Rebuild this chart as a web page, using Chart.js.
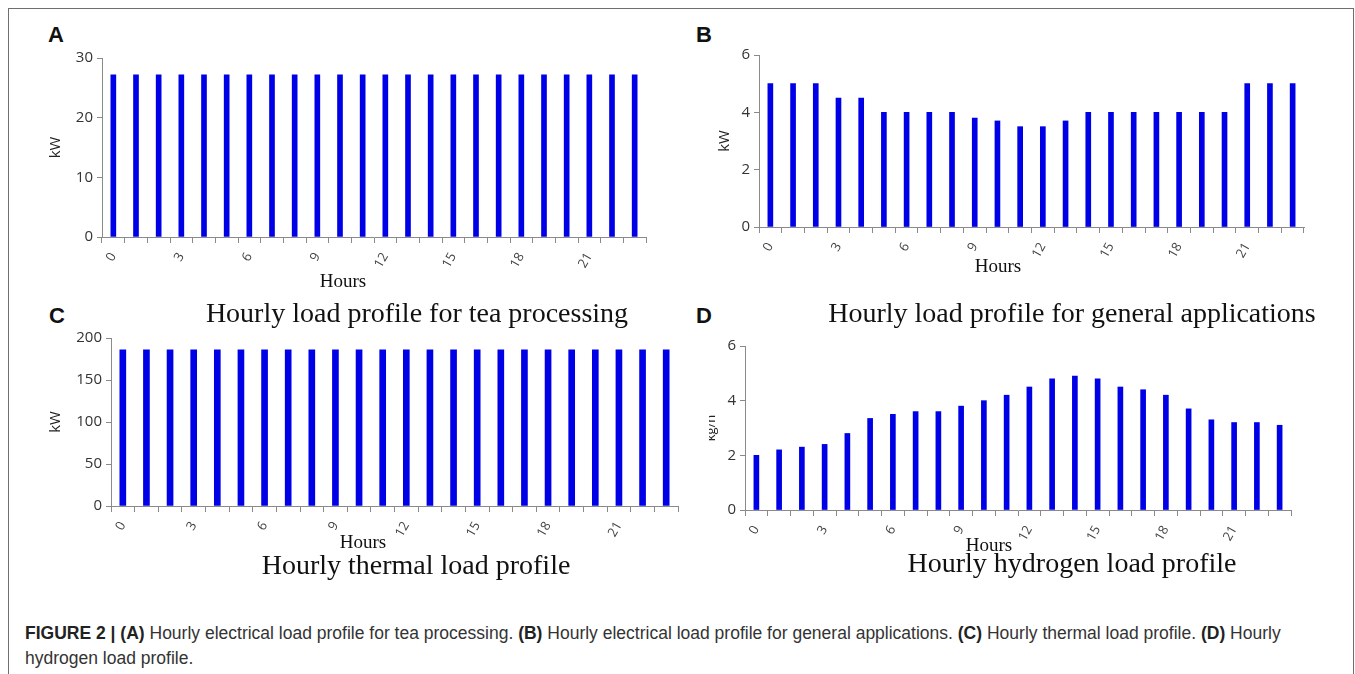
<!DOCTYPE html>
<html>
<head>
<meta charset="utf-8">
<title>Hourly load profiles</title>
<script src="https://cdn.jsdelivr.net/npm/chart.js@4.4.1/dist/chart.umd.min.js"></script>
<style>
  html, body { margin: 0; padding: 0; background: #fff; }
  body { position: relative; width: 1355px; height: 674px; overflow: hidden; font-family: "Liberation Sans", Arial, sans-serif; }
  .frame { position: absolute; left: 8px; top: 8px; width: 1344px; height: 700px; border: 1px solid #6f6f6f; border-bottom: none; }
  canvas { position: absolute; }
  .letter { position: absolute; font: bold 22px "Liberation Sans", Arial, sans-serif; color: #111; line-height: 22px; }
  .title { position: absolute; font: 28px "Liberation Serif", "Times New Roman", serif; color: #111; white-space: nowrap; transform: translateX(-50%); line-height: 28px; }
  .hours { position: absolute; font: 19px "Liberation Serif", "Times New Roman", serif; color: #111; white-space: nowrap; transform: translateX(-50%); line-height: 19px; }
  .caption { position: absolute; left: 25px; top: 621px; width: 1320px; font: 17.5px "Liberation Sans", Arial, sans-serif; color: #333; line-height: 25px; white-space: nowrap; }
  .caption b { color: #222; }
</style>
</head>
<body>
<div class="frame"></div>

<div class="letter" style="left:48px;top:24px">A</div>
<div class="letter" style="left:696px;top:24px">B</div>
<div class="letter" style="left:49px;top:305px">C</div>
<div class="letter" style="left:696px;top:305px">D</div>

<canvas id="teaChart" width="620" height="255" style="left:40px;top:40px"></canvas>
<canvas id="generalChart" width="620" height="245" style="left:700px;top:40px"></canvas>
<canvas id="thermalChart" width="650" height="228" style="left:40px;top:325px"></canvas>
<canvas id="hydrogenChart" width="611" height="230" style="left:709px;top:325px"></canvas>

<div class="hours" style="left:343px;top:271px">Hours</div>
<div class="hours" style="left:998px;top:256px">Hours</div>
<div class="hours" style="left:363px;top:532px">Hours</div>
<div class="hours" style="left:989px;top:535px">Hours</div>

<div class="title" style="left:417px;top:299px">Hourly load profile for tea processing</div>
<div class="title" style="left:1072px;top:299px">Hourly load profile for general applications</div>
<div class="title" style="left:416px;top:551px">Hourly thermal load profile</div>
<div class="title" style="left:1072px;top:549px">Hourly hydrogen load profile</div>

<div class="caption"><b>FIGURE 2 | (A)</b> Hourly electrical load profile for tea processing. <b>(B)</b> Hourly electrical load profile for general applications. <b>(C)</b> Hourly thermal load profile. <b>(D)</b> Hourly<br>hydrogen load profile.</div>

<script>
// Hour of day, one bar per hour
const hours = ['0','1','2','3','4','5','6','7','8','9','10','11','12','13','14','15','16','17','18','19','20','21','22','23'];
// Only every third hour gets a printed label
const hourLabelStep = 3;

// (A) electrical load for tea processing, kW
const teaLoadKW = [27.2,27.2,27.2,27.2,27.2,27.2,27.2,27.2,27.2,27.2,27.2,27.2,
                   27.2,27.2,27.2,27.2,27.2,27.2,27.2,27.2,27.2,27.2,27.2,27.2];
// (B) electrical load for general applications, kW
const generalLoadKW = [5,5,5,4.5,4.5,4,4,4,4,3.8,3.7,3.5,
                       3.5,3.7,4,4,4,4,4,4,4,5,5,5];
// (C) thermal load, kW
const thermalLoadKW = [186,186,186,186,186,186,186,186,186,186,186,186,
                       186,186,186,186,186,186,186,186,186,186,186,186];
// (D) hydrogen load, kg/h
const hydrogenLoadKgH = [2.0,2.2,2.3,2.4,2.8,3.35,3.5,3.6,3.6,3.8,4.0,4.2,
                         4.5,4.8,4.9,4.8,4.5,4.4,4.2,3.7,3.3,3.2,3.2,3.1];

// Value-axis tick values per panel
const teaTicks = [0, 10, 20, 30];
const generalTicks = [0, 2, 4, 6];
const thermalTicks = [0, 50, 100, 150, 200];
const hydrogenTicks = [0, 2, 4, 6];

const BAR_BLUE = '#0000e6';
const AXIS_GREY = '#8a8a8a';

function barPanel(id, values, yTicks, cfg) {
  const step = yTicks[1] - yTicks[0];
  return new Chart(document.getElementById(id), {
    type: 'bar',
    data: {
      labels: hours,
      datasets: [{ data: values, backgroundColor: BAR_BLUE, borderWidth: 0, barThickness: cfg.barWidth }]
    },
    options: {
      responsive: false,
      animation: false,
      devicePixelRatio: 1,
      layout: { padding: { top: cfg.padTop, right: cfg.padRight, left: 0, bottom: 0 } },
      plugins: { legend: { display: false }, tooltip: { enabled: false } },
      scales: {
        x: {
          grid: { display: true, drawOnChartArea: false, offset: true, tickLength: 6, color: AXIS_GREY, lineWidth: 1 },
          border: { display: true, color: AXIS_GREY, width: 1 },
          ticks: {
            autoSkip: false, minRotation: 60, maxRotation: 60, padding: 7,
            color: '#444', font: { family: 'Open Sans', size: 13 },
            callback: (v, i) => (i % hourLabelStep === 0 ? hours[i] : '')
          },
          title: { display: false },
          afterFit: s => { s.height = cfg.xHeight; }
        },
        y: {
          min: yTicks[0], max: yTicks[yTicks.length - 1],
          ticks: { stepSize: step, color: '#333', font: { family: 'Open Sans', size: 15 }, padding: 4 },
          grid: { drawOnChartArea: false, tickLength: 5, color: AXIS_GREY },
          border: { color: AXIS_GREY, width: 1 },
          title: {
            display: true, text: cfg.yTitle, color: '#222',
            font: { family: 'Open Sans', size: cfg.yTitleSize || 15, lineHeight: cfg.yTitleLH || 1.2 },
            padding: { top: cfg.yTitlePad, bottom: 0 }
          },
          afterFit: s => { s.width = cfg.yWidth; }
        }
      }
    }
  });
}

barPanel('teaChart', teaLoadKW, teaTicks,
  { barWidth: 5, padTop: 18, padRight: 14, xHeight: 58, yWidth: 62, yTitle: 'kW', yTitlePad: 7 });
barPanel('generalChart', generalLoadKW, generalTicks,
  { barWidth: 5, padTop: 15, padRight: 16, xHeight: 58, yWidth: 59, yTitle: 'kW', yTitlePad: 16 });
barPanel('thermalChart', thermalLoadKW, thermalTicks,
  { barWidth: 6, padTop: 12, padRight: 12, xHeight: 47, yWidth: 71, yTitle: 'kW', yTitlePad: 7 });
barPanel('hydrogenChart', hydrogenLoadKgH, hydrogenTicks,
  { barWidth: 5, padTop: 21, padRight: 29, xHeight: 45, yWidth: 36, yTitle: 'kg/h', yTitlePad: 0, yTitleSize: 13, yTitleLH: 0.3 });
</script>
</body>
</html>
